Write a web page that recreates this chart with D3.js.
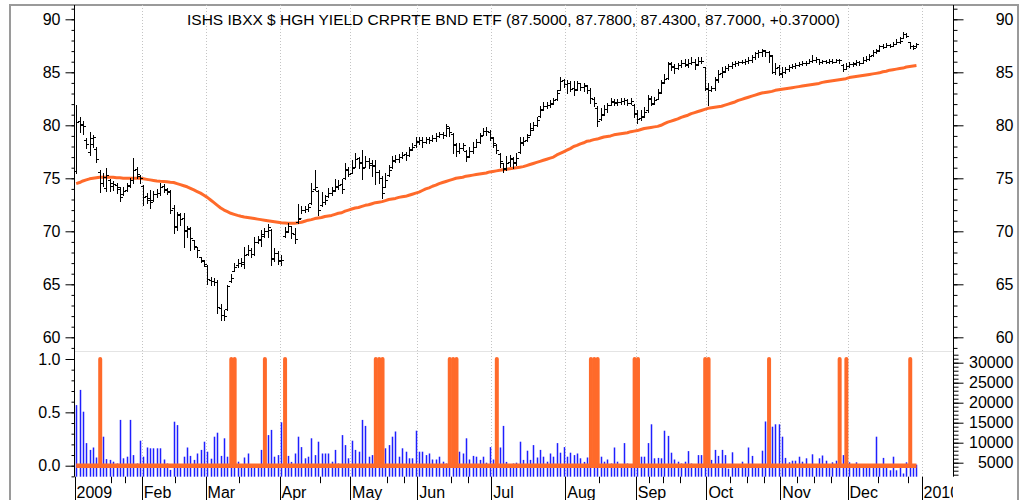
<!DOCTYPE html>
<html><head><meta charset="utf-8">
<script src="https://cdn.jsdelivr.net/npm/d3@7"></script>
<style>
body{margin:0;background:#fff}
svg{display:block}
text{font-family:"Liberation Sans",Arial,Helvetica,sans-serif}
</style>
</head><body>
<script>
const title = "ISHS IBXX $ HGH YIELD CRPRTE BND ETF (87.5000, 87.7800, 87.4300, 87.7000, +0.37000)";

// trading-day index 0..250 (2009-01-02 .. 2009-12-30)
const open = [
75.7,80.4,80.1,78.6,77.5,78.2,77.8,75.6,74.6,74.1,74.8,74.3,74.4,74.0,73.5,73.9,74.4,74.8,75.9,75.2,
74.3,73.3,73.1,73.0,73.5,73.6,74.3,73.9,73.7,72.2,70.4,71.6,71.3,70.1,70.3,69.2,68.5,67.6,67.2,
66.7,65.4,65.3,65.2,62.8,62.1,62.7,65.3,66.3,66.8,67.0,66.9,67.9,68.2,67.9,69.0,69.2,69.7,70.0,70.1,67.5,68.0,
67.2,69.6,70.0,70.5,69.7,70.9,71.3,72.0,72.1,72.7,74.0,73.8,72.5,72.8,73.3,73.6,73.9,74.3,74.5,75.0,75.9,
75.5,76.1,76.9,76.5,76.1,76.6,76.4,76.3,75.6,75.0,74.2,75.3,76.1,76.7,76.8,77.0,77.3,77.2,77.8,78.1,
78.4,78.6,78.4,78.7,78.6,78.8,79.0,79.2,79.1,79.7,79.2,78.1,77.6,77.9,77.6,77.1,77.6,78.0,78.4,79.1,79.5,79.4,
78.8,78.1,77.3,76.4,76.0,76.5,76.9,76.5,77.5,78.4,78.6,79.1,79.7,80.0,80.9,81.5,81.8,81.9,82.1,82.5,83.3,84.3,
83.9,84.0,83.5,83.4,84.0,83.6,83.7,83.3,82.5,81.6,80.6,81.1,81.5,81.9,82.3,82.1,82.2,82.3,82.4,82.1,81.9,
81.1,80.7,80.9,81.4,82.6,82.1,82.5,83.1,84.1,84.5,85.9,85.5,85.4,85.7,85.9,85.7,85.9,86.0,85.8,86.1,85.5,
83.5,83.3,83.5,84.3,84.9,85.1,85.4,85.6,85.8,85.9,86.0,86.0,86.1,86.2,86.4,86.8,86.9,87.0,86.9,86.5,85.0,85.5,
84.8,85.0,85.3,85.5,85.6,85.7,85.8,85.9,85.9,86.1,86.2,86.3,86.0,86.1,86.0,86.1,86.0,86.2,85.7,85.3,
85.6,85.8,85.9,86.0,85.9,86.2,86.3,86.6,86.9,87.1,87.5,87.4,87.6,87.5,87.7,87.9,88.2,88.6,87.9,87.5,87.50
];
const high = [
81.9,80.8,80.4,78.8,79.4,79.1,78.0,75.8,75.5,76.0,74.9,74.7,74.6,74.2,74.2,74.6,75.0,76.9,76.1,75.3,
74.4,73.6,73.9,73.8,74.0,74.6,74.5,74.1,73.9,72.5,71.8,71.7,71.7,70.5,70.4,69.2,68.5,67.6,67.3,
66.8,65.7,65.6,65.4,63.1,62.6,64.9,66.0,67.0,67.4,67.5,68.5,68.7,68.4,69.5,69.6,70.1,70.3,70.7,70.2,68.4,68.1,
67.8,70.4,70.8,70.5,70.3,72.6,72.4,72.4,72.6,74.6,75.8,73.9,73.7,73.4,74.1,74.2,74.9,74.8,74.9,76.4,76.1,
76.7,77.4,77.0,77.7,77.1,76.9,76.7,76.7,75.8,75.2,75.5,76.3,77.1,77.2,77.3,77.5,77.5,78.0,78.3,78.9,
78.9,78.9,78.9,78.9,79.1,79.3,79.4,79.4,80.1,79.8,79.3,78.3,78.3,78.3,77.7,78.0,78.4,78.7,79.3,79.7,79.8,79.6,
78.9,78.2,77.4,76.4,77.1,77.2,77.0,77.4,78.9,78.9,79.2,80.2,80.3,80.8,81.8,82.2,82.2,82.4,82.6,83.3,84.6,84.4,
84.3,84.2,84.2,84.2,84.0,84.0,83.8,83.5,82.7,81.8,81.6,81.9,82.1,82.6,82.5,82.5,82.6,82.6,82.5,82.6,82.0,
81.4,81.4,81.7,82.9,82.8,82.7,83.4,84.3,84.8,86.0,86.0,85.8,85.9,86.2,86.3,86.3,86.4,86.3,86.4,86.4,85.5,
84.0,83.7,84.6,85.2,85.5,85.6,85.8,86.0,86.1,86.1,86.2,86.3,86.4,86.6,86.9,87.1,87.2,87.1,87.0,86.6,85.9,85.7,
85.5,85.5,85.7,85.8,85.9,86.0,86.1,86.1,86.3,86.6,86.4,86.3,86.2,86.2,86.3,86.3,86.3,86.3,85.8,85.9,
86.0,86.0,86.2,86.1,86.4,86.5,86.7,87.1,87.2,87.6,87.7,87.8,87.7,87.9,88.1,88.3,88.8,88.7,87.9,87.6,87.78
];
const low = [
75.5,79.4,79.2,77.9,77.2,78.0,76.5,73.7,74.3,73.8,73.8,73.9,73.6,72.9,73.4,73.8,74.2,74.6,75.0,74.6,
72.5,72.7,72.2,72.9,73.2,73.4,73.7,73.5,71.7,69.8,70.1,70.6,68.5,69.5,68.2,68.3,67.6,67.1,66.7,
65.0,64.9,64.9,62.3,61.6,61.6,62.6,65.2,66.3,66.6,66.7,66.5,67.8,67.6,67.8,68.9,68.6,69.5,69.5,66.8,67.2,66.9,
66.8,69.5,69.9,69.4,68.9,70.8,71.7,71.8,71.9,72.6,73.9,71.5,72.4,72.6,73.2,73.4,73.8,74.0,73.6,74.9,75.2,
75.5,76.1,76.0,74.9,76.1,76.0,75.2,74.5,74.6,73.1,74.2,75.2,76.0,76.5,76.5,76.9,76.7,77.1,77.7,78.0,
78.2,78.0,78.3,78.3,78.5,78.5,78.9,78.8,79.0,79.0,77.4,77.1,77.4,77.7,76.6,77.0,77.4,78.0,78.3,79.1,79.1,78.6,
78.0,77.4,76.1,75.6,75.8,76.2,76.0,76.3,77.4,78.1,78.5,79.1,79.6,79.9,80.8,81.4,81.6,81.7,82.0,82.4,83.3,83.6,
83.0,83.2,82.9,83.3,83.3,83.2,83.0,82.1,81.8,79.9,80.5,81.0,81.3,81.9,81.9,81.9,82.0,82.0,81.9,82.0,80.8,
80.2,80.5,80.8,81.3,81.9,82.0,82.5,83.0,84.0,84.4,85.2,84.9,85.3,85.5,85.6,85.5,85.8,85.3,85.7,85.9,83.3,
81.9,83.2,83.3,84.1,84.6,85.0,85.2,85.4,85.6,85.7,85.9,85.8,85.9,86.0,86.3,86.4,86.5,86.5,86.0,84.9,84.8,84.7,
84.6,84.9,85.1,85.4,85.4,85.6,85.7,85.7,85.9,86.0,86.0,85.8,85.9,85.9,85.9,85.9,86.0,85.9,85.1,85.3,
85.5,85.6,85.7,85.7,85.9,86.1,86.2,86.5,86.8,87.0,87.3,87.4,87.4,87.5,87.7,87.8,88.2,88.3,87.3,87.2,87.43
];
const close = [
80.3,80.0,79.9,78.2,78.8,78.9,76.8,74.6,75.1,75.3,74.6,74.5,74.2,73.2,73.8,74.3,74.8,75.8,75.4,75.0,
73.2,73.0,72.8,73.5,73.6,74.2,74.0,73.8,72.0,70.5,71.5,71.2,70.0,70.2,69.4,68.6,68.2,67.3,66.9,
65.5,65.3,65.2,62.9,62.1,62.0,64.8,65.6,66.6,67.0,67.1,67.8,68.2,67.9,69.0,69.3,69.6,70.0,70.4,67.4,68.0,67.3,
67.3,69.9,70.5,69.8,69.3,71.2,72.0,72.1,72.3,73.8,74.2,72.0,72.8,73.0,73.6,73.8,74.2,74.4,74.0,75.8,75.4,
76.0,76.8,76.4,76.0,76.6,76.3,76.2,75.6,75.0,73.6,74.8,75.8,76.6,76.8,77.0,77.2,77.2,77.7,78.0,78.5,
78.6,78.4,78.7,78.6,78.8,79.0,79.2,79.1,79.9,79.4,78.2,77.6,77.9,78.1,77.0,77.6,78.0,78.4,79.0,79.5,79.5,78.9,
78.3,77.7,76.6,75.9,76.4,76.8,76.4,76.9,78.3,78.5,78.9,79.6,80.0,80.5,81.4,81.8,81.9,82.0,82.4,83.0,84.2,83.9,
84.0,83.4,83.3,84.0,83.6,83.8,83.3,82.6,82.1,80.4,81.0,81.5,81.9,82.2,82.2,82.2,82.3,82.4,82.1,82.3,81.2,
80.6,80.8,81.3,82.5,82.0,82.4,83.0,84.0,84.4,85.8,85.6,85.4,85.7,85.9,85.8,85.9,86.0,85.7,86.1,86.1,83.4,
83.3,83.5,84.4,84.8,85.0,85.4,85.6,85.8,85.9,86.0,86.0,86.1,86.2,86.4,86.8,86.9,87.1,86.9,86.6,85.0,85.4,84.9,
85.0,85.3,85.5,85.6,85.7,85.8,85.9,85.9,86.1,86.2,86.3,86.0,86.1,86.0,86.1,86.0,86.2,86.2,85.3,85.6,
85.8,85.8,86.0,85.9,86.2,86.3,86.5,86.9,87.0,87.5,87.4,87.6,87.5,87.7,87.9,88.0,88.6,88.4,87.5,87.33,87.70
];
const movingAvg = [
74.5,74.6,74.75,74.85,74.95,75.0,75.05,75.1,75.1,75.1,
75.1,75.1,75.05,75.05,75.0,75.0,75.0,75.0,75.0,75.0,
74.95,74.9,74.85,74.8,74.75,74.72,74.7,74.67,74.63,74.6,
74.5,74.4,74.3,74.2,74.05,73.9,73.75,73.6,73.4,73.2,
72.95,72.7,72.45,72.2,72.0,71.85,71.7,71.6,71.5,71.42,
71.35,71.3,71.25,71.2,71.15,71.1,71.05,71.0,70.95,70.9,
70.85,70.8,70.78,70.76,70.75,70.75,70.8,70.85,70.95,71.05,
71.1,71.2,71.25,71.3,71.4,71.45,71.5,71.6,71.7,71.75,
71.9,72.0,72.1,72.2,72.25,72.35,72.45,72.5,72.6,72.7,
72.75,72.8,72.9,73.0,73.05,73.1,73.2,73.25,73.3,73.4,
73.5,73.6,73.7,73.85,74.0,74.1,74.25,74.35,74.5,74.6,
74.7,74.8,74.9,75.0,75.05,75.1,75.2,75.25,75.3,75.35,
75.4,75.45,75.5,75.6,75.65,75.7,75.75,75.8,75.85,75.9,
75.95,76.0,76.05,76.1,76.2,76.3,76.4,76.5,76.6,76.7,
76.8,76.9,77.0,77.2,77.35,77.5,77.65,77.8,78.0,78.1,
78.25,78.35,78.5,78.55,78.65,78.7,78.8,78.9,78.95,79.0,
79.1,79.15,79.2,79.25,79.3,79.4,79.45,79.5,79.6,79.7,
79.75,79.8,79.85,79.9,80.0,80.15,80.3,80.4,80.5,80.6,
80.75,80.85,80.95,81.1,81.2,81.3,81.4,81.5,81.6,81.65,
81.7,81.75,81.8,81.9,82.0,82.1,82.2,82.35,82.45,82.55,
82.65,82.75,82.85,82.95,83.05,83.1,83.15,83.2,83.3,83.35,
83.4,83.45,83.5,83.55,83.6,83.65,83.7,83.75,83.8,83.85,
83.9,83.95,84.05,84.1,84.15,84.2,84.25,84.3,84.35,84.4,
84.5,84.55,84.6,84.65,84.7,84.75,84.8,84.85,84.9,84.95,
85.05,85.1,85.2,85.25,85.3,85.35,85.4,85.5,85.55,85.6,85.65
];
const volume = [
19400,23200,17750,9900,8200,8800,6300,5000,11500,5900,5700,5250,4800,15700,6100,6500,15700,6900,4800,10500,
6500,8800,8600,8600,8600,8600,5800,4800,3200,15250,14400,4000,6500,8800,6700,5700,7300,8200,10250,
7750,6000,11500,12500,6700,11100,6500,8000,6000,5250,4500,6300,7300,4500,4600,4500,8200,6000,11900,13200,6500,6900,
15100,6000,6700,5200,7300,11500,8900,6100,6500,11100,6900,10250,7300,7300,7300,5250,8200,4800,11900,9400,6100,
10500,8200,7750,15700,14200,6500,6900,6000,6000,6000,8600,9400,11500,12800,6500,8600,7750,6100,6100,13000,
7750,7750,6900,7300,5800,5800,6500,5250,4800,6000,6000,6000,7750,7300,11100,5800,6700,6500,5700,6500,5000,8900,
5800,6000,8800,14200,5200,4500,4800,5000,10250,5700,8000,5700,9400,6300,8200,6500,5250,7300,6500,9900,7500,8900,
6500,7500,6900,7300,6100,5200,6300,6000,6000,6000,6500,5250,5800,4800,8800,5250,4600,9900,4800,4600,6000,
6000,6500,6500,9900,14600,6100,6200,6100,13000,11700,7500,5800,5250,4800,5250,7900,4800,4500,6900,6900,6000,
6000,5700,8200,6700,8200,6900,3500,7600,4000,4500,5250,4500,8800,6700,4500,4500,8000,15300,6000,14000,14600,14600,
11500,6200,5100,5500,5500,6500,5250,6100,4600,7100,4500,6100,6800,5500,4600,5100,5500,6000,6900,6000,
5100,4600,5100,4000,4500,4000,4200,4000,11500,4200,6200,4000,3100,6500,3100,3800,2300,5100,6000,4200,4500
];
const signalDays = [7,46,47,56,62,89,90,91,111,112,113,125,153,154,155,166,167,187,188,206,227,229,248];

const monthStarts = [0,20,39,61,82,102,124,146,167,188,210,230,252];
const monthLabels = ["2009","Feb","Mar","Apr","May","Jun","Jul","Aug","Sep","Oct","Nov","Dec","2010"];
const weekTicks = [11,15,30,49,73,93,98,112,117,156,171,175,180,195,200,205,215,220,225,239,248];
const priceTicks = [60,65,70,75,80,85,90];
const signalTicks = [0,0.5,1];
const volumeTicks = [5000,10000,15000,20000,25000,30000];

const W = 1026, H = 500;
const L = 74, R = 953, T = 5, MID = 351, B = 476.7;
const ORANGE = "#ff6a2a", BLUE = "#1f1fff";
const FONT = "Liberation Sans, Arial, sans-serif";

const svg = d3.select("body").append("svg").attr("width", W).attr("height", H);

const n = close.length;
const idx = d3.range(n);
const signal = idx.map(i => signalDays.includes(i) ? 1 : 0);

const x = d3.scaleLinear().domain([-0.5, 251.5]).range([74.5, 921.5]);
const yP = d3.scaleLinear().domain([60, 90]).range([337.3, 19.3]);
const yS = d3.scaleLinear().domain([0, 1]).range([465.7, 359]);
const yV = d3.scaleLinear().domain([5000, 30000]).range([462.7, 362.7]);

// frame
svg.append("rect").attr("x", 10).attr("y", 5).attr("width", 1008).attr("height", 520)
  .attr("fill", "none").attr("stroke", "#9a9a9a").attr("stroke-width", 2);

// vertical dotted grid at month starts
svg.append("g").selectAll("line").data(monthStarts.slice(1)).join("line")
  .attr("x1", d => Math.round(x(d - 0.5)) + 0.5).attr("x2", d => Math.round(x(d - 0.5)) + 0.5)
  .attr("y1", T).attr("y2", B)
  .attr("stroke", "#c4c4c4").attr("stroke-width", 1).attr("stroke-dasharray", "1,2");

// panel separator
svg.append("line").attr("x1", L).attr("x2", R).attr("y1", MID + 0.5).attr("y2", MID + 0.5)
  .attr("stroke", "#e4e4e4").attr("stroke-width", 1);

// title
svg.append("text").attr("x", 187).attr("y", 24.5).attr("font-size", 15.5).attr("fill", "#000")
  .attr("font-family", FONT).text(title);

// moving average
svg.append("path").datum(idx)
  .attr("d", d3.line().x(i => x(i)).y(i => yP(movingAvg[i])))
  .attr("fill", "none").attr("stroke", ORANGE).attr("stroke-width", 3).attr("stroke-linejoin", "round");

// OHLC bars
const px = i => Math.round(x(i)) + 0.5;
const py = v => Math.round(yP(v)) + 0.5;
const ohlc = idx.map(i => {
  const xi = px(i);
  return `M${xi},${Math.round(yP(high[i]))}V${Math.round(yP(low[i])) + 1}` +
         `M${xi - 2.5},${py(open[i])}H${xi}M${xi},${py(close[i])}H${xi + 2.5}`;
}).join("");
svg.append("path").attr("d", ohlc).attr("fill", "none").attr("stroke", "#000").attr("stroke-width", 1);

// volume bars
svg.append("g").selectAll("rect").data(idx).join("rect")
  .attr("x", i => Math.round(x(i)) - 0.25).attr("width", 1.5)
  .attr("y", i => yV(volume[i])).attr("height", i => Math.max(0, B - yV(volume[i])))
  .attr("fill", BLUE);

// signal: baseline + spikes
svg.append("path").datum(idx)
  .attr("d", d3.line().x(i => x(i)).y(() => yS(0)))
  .attr("fill", "none").attr("stroke", ORANGE).attr("stroke-width", 4.5);
svg.append("g").selectAll("line").data(idx.filter(i => signal[i] === 1)).join("line")
  .attr("x1", i => x(i) + 0.5).attr("x2", i => x(i) + 0.5)
  .attr("y1", yS(0)).attr("y2", yS(1))
  .attr("stroke", ORANGE).attr("stroke-width", 4).attr("stroke-linecap", "round");

// axis lines
[L, R].forEach(xx => svg.append("line").attr("x1", xx + 0.5).attr("x2", xx + 0.5)
  .attr("y1", T).attr("y2", B).attr("stroke", "#000").attr("stroke-width", 1));

function styleAxis(g) {
  g.select(".domain").remove();
  g.attr("font-family", FONT).attr("font-size", 16);
  g.selectAll("text").attr("fill", "#000");
  g.selectAll("line").attr("stroke", "#000");
}
const inRange = (arr, sc, lo, hi) => arr.filter(v => sc(v) >= lo && sc(v) <= hi);

// upper left
svg.append("g").attr("transform", `translate(${L + 0.5},0)`)
  .call(d3.axisLeft(yP).tickValues(inRange(d3.range(59, 92), yP, T, MID)).tickSize(3).tickFormat(""))
  .call(styleAxis);
svg.append("g").attr("transform", `translate(${L + 0.5},0)`)
  .call(d3.axisLeft(yP).tickValues(priceTicks).tickSize(9).tickPadding(5))
  .call(styleAxis);
// upper right
svg.append("g").attr("transform", `translate(${R + 0.5},0)`)
  .call(d3.axisRight(yP).tickValues(inRange(d3.range(59, 92), yP, T, MID)).tickSize(4).tickFormat(""))
  .call(styleAxis);
svg.append("g").attr("transform", `translate(${R + 0.5},0)`)
  .call(d3.axisRight(yP).tickValues(priceTicks).tickSize(10))
  .call(styleAxis)
  .call(g => g.selectAll("text").attr("x", 60).attr("text-anchor", "end"));

// lower left
svg.append("g").attr("transform", `translate(${L + 0.5},0)`)
  .call(d3.axisLeft(yS).tickValues(inRange(d3.range(-1, 11).map(v => v / 10), yS, MID, B)).tickSize(3).tickFormat(""))
  .call(styleAxis);
svg.append("g").attr("transform", `translate(${L + 0.5},0)`)
  .call(d3.axisLeft(yS).tickValues(signalTicks).tickSize(9).tickPadding(5).tickFormat(d3.format(".1f")))
  .call(styleAxis);
// lower right
svg.append("g").attr("transform", `translate(${R + 0.5},0)`)
  .call(d3.axisRight(yV).tickValues(inRange(d3.range(1000, 36000, 1000), yV, MID, B)).tickSize(5).tickFormat(""))
  .call(styleAxis);
svg.append("g").attr("transform", `translate(${R + 0.5},0)`)
  .call(d3.axisRight(yV).tickValues(volumeTicks).tickSize(10).tickFormat(d3.format("d")))
  .call(styleAxis)
  .call(g => g.selectAll("text").attr("x", 60).attr("text-anchor", "end"));

// x axis (trading-day index)
svg.append("defs").append("clipPath").attr("id", "xclip")
  .append("rect").attr("x", 0).attr("y", 0).attr("width", R).attr("height", H);
const xa = svg.append("g");
xa.selectAll("line.major").data(monthStarts).join("line").attr("class", "major")
  .attr("x1", d => Math.round(x(d - 0.5)) + 0.5).attr("x2", d => Math.round(x(d - 0.5)) + 0.5)
  .attr("y1", B).attr("y2", H).attr("stroke", "#000").attr("stroke-width", 1);
xa.selectAll("line.minor").data(weekTicks).join("line").attr("class", "minor")
  .attr("x1", d => Math.round(x(d - 0.5)) + 0.5).attr("x2", d => Math.round(x(d - 0.5)) + 0.5)
  .attr("y1", B).attr("y2", B + 6.5).attr("stroke", "#000").attr("stroke-width", 1);
xa.append("g").attr("clip-path", "url(#xclip)").selectAll("text").data(monthStarts).join("text")
  .attr("x", d => x(d - 0.5) + 2).attr("y", 497.5)
  .attr("font-size", 16).attr("font-family", FONT).attr("fill", "#000")
  .text((d, k) => monthLabels[k]);
</script>
</body></html>
